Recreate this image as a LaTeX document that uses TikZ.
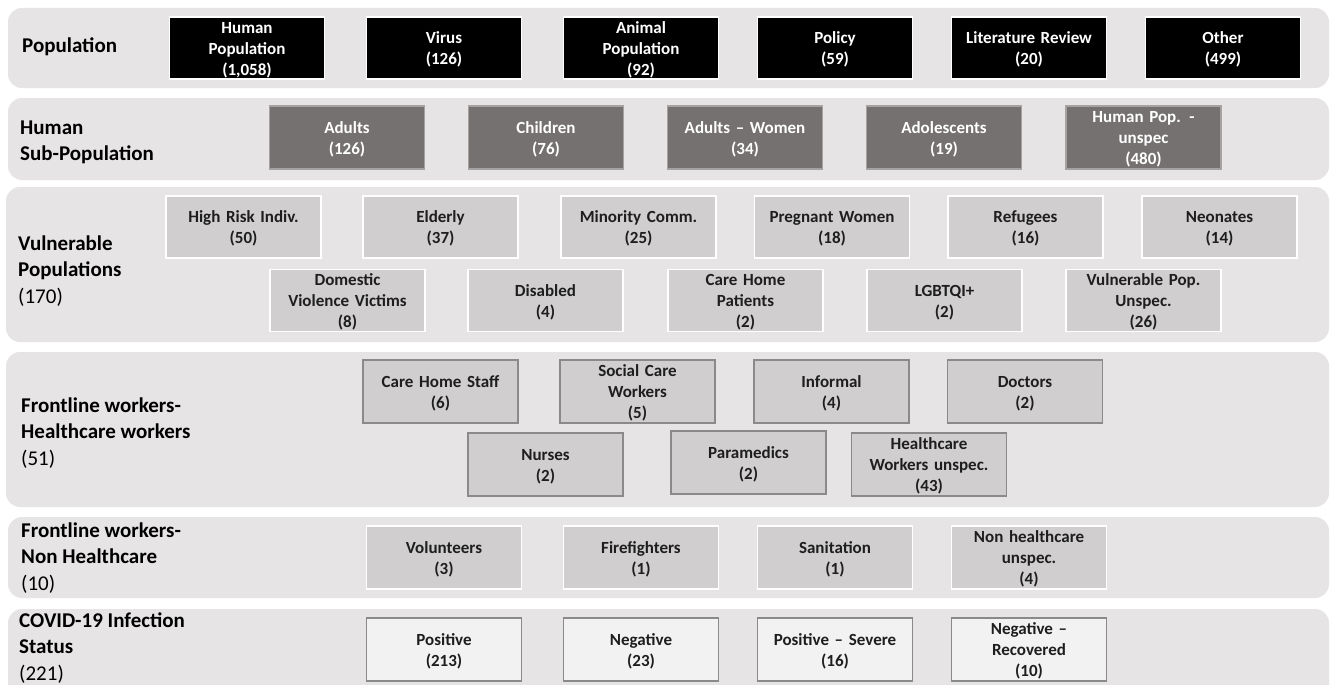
\documentclass[tikz,border=0pt]{standalone}
\usepackage{fontspec}
\setmainfont{Carlito}
\definecolor{bandbg}{HTML}{E6E4E5}
\definecolor{darkbox}{HTML}{767171}
\definecolor{darkedge}{HTML}{A6A2A2}
\definecolor{midbox}{HTML}{D0CECE}
\definecolor{edgegray}{HTML}{8A8A8A}
\definecolor{palebox}{HTML}{F2F2F2}
\definecolor{txt}{HTML}{1E1E1E}
\tikzset{
  band/.style={fill=bandbg, draw=none, rounded corners=14pt},
  basebox/.style={rectangle, minimum width=155pt, minimum height=62pt, inner sep=0pt,
    text width=150pt, align=center, font=\fontsize{17}{20.9}\selectfont\bfseries, line width=1.3pt,
    execute at begin node={\rule{0pt}{15pt}}},
  blackbox/.style={basebox, fill=black, draw=white, text=white},
  greybox/.style={basebox, fill=darkbox, draw=darkedge, text=white, minimum height=63pt},
  lightbox/.style={basebox, fill=midbox, draw=white, text=txt},
  framedbox/.style={basebox, fill=midbox, draw=edgegray, text=txt, minimum height=63pt},
  palebx/.style={basebox, fill=palebox, draw=edgegray, text=txt, minimum height=63pt},
  rowlabel/.style={anchor=west, inner sep=0pt, align=left, text=black,
    font=\fontsize{21}{26.3}\selectfont\bfseries}
}
\begin{document}
\begin{tikzpicture}[x=1pt,y=-1pt]
\clip (0,0) rectangle (1330,685);
\fill[white] (0,0) rectangle (1330,685);
% bands
\fill[band] (8,8) rectangle (1329,88);
\fill[band] (8,98) rectangle (1329,180);
\fill[band] (6,187) rectangle (1329,342);
\fill[band] (6,352) rectangle (1329,507);
\fill[band] (8,517) rectangle (1329,598);
\fill[band] (8,609) rectangle (1329,710);
% row labels
\node[rowlabel] (l1) at (22,47) {Population};
\node[rowlabel] (l2) at (20,142) {Human\\Sub-Population};
\node[rowlabel] (l3) at (18,271) {Vulnerable\\Populations\\{\mdseries (170)}};
\node[rowlabel] (l4) at (21,433) {Frontline workers-\\Healthcare workers\\{\mdseries (51)}};
\node[rowlabel] (l5) at (21,558) {Frontline workers-\\Non Healthcare\\{\mdseries (10)}};
\node[rowlabel] (l6) at (19,648) {COVID-19 Infection\\Status\\{\mdseries (221)}};
% row 1
\node[blackbox] (p1) at (247,48) {Human\\Population\\(1,058)};
\node[blackbox] (p2) at (444,48) {Virus\\(126)};
\node[blackbox] (p3) at (641,48) {Animal\\Population\\(92)};
\node[blackbox] (p4) at (835,48) {Policy\\(59)};
\node[blackbox] (p5) at (1029,48) {Literature Review\\(20)};
\node[blackbox] (p6) at (1223,48) {Other\\(499)};
% row 2
\node[greybox] (h1) at (347,137.5) {Adults\\(126)};
\node[greybox] (h2) at (546,137.5) {Children\\(76)};
\node[greybox] (h3) at (745,137.5) {Adults -- Women\\(34)};
\node[greybox] (h4) at (944,137.5) {Adolescents\\(19)};
\node[greybox] (h5) at (1143.5,137.5) {Human Pop. -\\unspec\\(480)};
% row 3
\node[lightbox] (v1) at (243.5,227) {High Risk Indiv.\\(50)};
\node[lightbox] (v2) at (440.5,227) {Elderly\\(37)};
\node[lightbox] (v3) at (638.5,227) {Minority Comm.\\(25)};
\node[lightbox] (v4) at (832,227) {Pregnant Women\\(18)};
\node[lightbox] (v5) at (1025.5,227) {Refugees\\(16)};
\node[lightbox] (v6) at (1219.5,227) {Neonates\\(14)};
\node[lightbox] (v7) at (347.5,300.5) {Domestic\\Violence Victims\\(8)};
\node[lightbox] (v8) at (545.5,300.5) {Disabled\\(4)};
\node[lightbox] (v9) at (745.5,300.5) {Care Home\\Patients\\(2)};
\node[lightbox] (v10) at (944.5,300.5) {LGBTQI+\\(2)};
\node[lightbox] (v11) at (1143.5,300.5) {Vulnerable Pop.\\Unspec.\\(26)};
% row 4
\node[framedbox] (f1) at (440.5,391.5) {Care Home Staff\\(6)};
\node[framedbox] (f2) at (637.5,391.5) {Social Care\\Workers\\(5)};
\node[framedbox] (f3) at (831.5,391.5) {Informal\\(4)};
\node[framedbox] (f4) at (1025,391.5) {Doctors\\(2)};
\node[framedbox] (f5) at (545.5,464.5) {Nurses\\(2)};
\node[framedbox] (f6) at (748.5,462.5) {Paramedics\\(2)};
\node[framedbox] (f7) at (929,464.5) {Healthcare\\Workers unspec.\\(43)};
% row 5
\node[lightbox, minimum height=63pt] (n1) at (444,557.5) {Volunteers\\(3)};
\node[lightbox, minimum height=63pt] (n2) at (641,557.5) {Firefighters\\(1)};
\node[lightbox, minimum height=63pt] (n3) at (835,557.5) {Sanitation\\(1)};
\node[lightbox, minimum height=63pt] (n4) at (1029,557.5) {Non healthcare\\unspec.\\(4)};
% row 6
\node[palebx] (c1) at (444,649.5) {Positive\\(213)};
\node[palebx] (c2) at (641,649.5) {Negative\\(23)};
\node[palebx] (c3) at (835,649.5) {Positive -- Severe\\(16)};
\node[palebx] (c4) at (1029,649.5) {Negative --\\Recovered\\(10)};
\end{tikzpicture}
\end{document}
